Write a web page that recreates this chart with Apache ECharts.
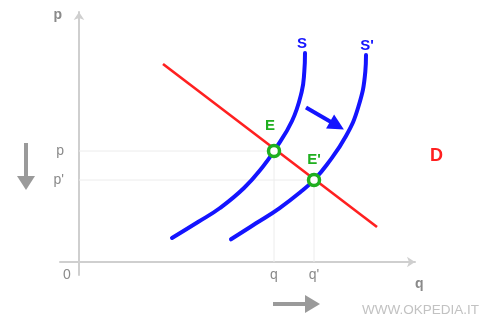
<!DOCTYPE html>
<html><head><meta charset="utf-8">
<script src="https://cdn.jsdelivr.net/npm/echarts@6/dist/echarts.min.js"></script>
<style>html,body{margin:0;padding:0;background:#fff}#c{width:480px;height:316px}</style>
</head><body><div id="c"></div>
<script>
// Supply curve S (before shift) and S' (after shift), demand D
const supplyS  = [[93,24],[119,40],[141,54],[165,74],[184,95.5],[195,111],[213,141],[222.7,170.3],[225.3,190.3],[226,209]];
const supplyS2 = [[152,22.7],[177,38.7],[200.3,53.7],[224,72],[235,82],[248,97.5],[267,126],[279.3,155],[286.3,190.3],[287,207]];
const demandD  = [[84,198],[298,35]];
// Equilibrium points E and E'
const equilibria = [[195,111],[235,82]];
const eqNames = ['E', "E'"];
// Shift arrow S -> S'
const shiftArrow = [[227,154.5],[258,136.5]];
// Tick labels
const xTickValues = [0, 195, 235];
const xTickLabels = ['0', 'q', "q'"];
const yTickValues = [111, 82];
const yTickLabels = ['p', "p'"];

const FONT = "'Liberation Sans', Arial, sans-serif";
const BLUE = '#1414ff', RED = '#ff2020', GREEN = '#1faf1f', GRAY = '#8a8a8a', AXIS = '#cfcfcf';

const guides = equilibria.map(p => ({
  type: 'line', silent: true, symbol: 'none', z: 1,
  data: [[0, p[1]], [p[0], p[1]], [p[0], 0]],
  lineStyle: { color: '#ececec', width: 1 }
}));

function curve(name, pts, labelOffset) {
  return { type: 'line', name, data: pts, smooth: 0.45, symbol: 'none', showSymbol: false, z: 3,
    lineStyle: { color: BLUE, width: 4, cap: 'round' },
    endLabel: { show: true, formatter: name, align: 'center', verticalAlign: 'bottom', distance: 0,
      offset: labelOffset, color: BLUE, fontWeight: 'bold', fontSize: 15, fontFamily: FONT } };
}

const chart = echarts.init(document.getElementById('c'), null, { renderer: 'canvas' });
chart.setOption({
  animation: false,
  backgroundColor: '#fff',
  grid: { left: 60, right: 65, top: 12, bottom: 41 },
  xAxis: {
    type: 'value', min: -19, max: 336,
    name: 'q', nameLocation: 'end', nameGap: 0,
    nameTextStyle: { color: GRAY, fontWeight: 'bold', fontSize: 14, fontFamily: FONT, verticalAlign: 'top', align: 'left', padding: [15, 0, 0, 0] },
    axisLine: { onZero: true, lineStyle: { color: AXIS, width: 2 }, symbol: ['none', 'arrow'], symbolSize: [8, 8] },
    axisTick: { show: false }, splitLine: { show: false },
    axisLabel: {
      customValues: xTickValues, margin: -7, color: GRAY, fontSize: 14, fontFamily: FONT,
      formatter: v => { const i = xTickValues.indexOf(v); return i === 0 ? '{z|' + xTickLabels[0] + '}' : (i > 0 ? xTickLabels[i] : ''); },
      rich: { z: { padding: [0, 24, 0, 0], color: GRAY, fontSize: 14, fontFamily: FONT } }
    }
  },
  yAxis: {
    type: 'value', min: -13, max: 250,
    name: 'p', nameLocation: 'end', nameGap: -3,
    nameTextStyle: { color: GRAY, fontWeight: 'bold', fontSize: 14, fontFamily: FONT, align: 'right', verticalAlign: 'middle', padding: [0, 17, 0, 0] },
    axisLine: { onZero: true, lineStyle: { color: AXIS, width: 2 }, symbol: ['none', 'arrow'], symbolSize: [8, 8] },
    axisTick: { show: false }, splitLine: { show: false },
    axisLabel: {
      customValues: yTickValues, margin: -4, color: GRAY, fontSize: 14, fontFamily: FONT,
      formatter: v => { const i = yTickValues.indexOf(v); return i >= 0 ? yTickLabels[i] : ''; }
    }
  },
  series: [
    ...guides,
    { type: 'line', name: 'D', data: demandD, symbol: 'none', z: 2, lineStyle: { color: RED, width: 2.6 } },
    curve('S', supplyS, [-3, -2]),
    curve("S'", supplyS2, [1, -2]),
    { type: 'lines', coordinateSystem: 'cartesian2d', z: 4,
      symbol: ['none', 'triangle'], symbolSize: 16,
      lineStyle: { color: BLUE, width: 4, opacity: 1 },
      data: [{ coords: shiftArrow }] },
    { type: 'scatter', z: 5, symbol: 'circle', symbolSize: 11,
      itemStyle: { color: '#fff', borderColor: GREEN, borderWidth: 3.5, opacity: 1 },
      data: equilibria.map((p, i) => ({ value: p, label: { show: true, position: 'top',
        distance: i === 0 ? 10 : 5, offset: i === 0 ? [-4, 0] : [0, 0],
        formatter: eqNames[i], color: GREEN, fontWeight: 'bold', fontSize: 15, fontFamily: FONT } })) }
  ],
  graphic: [
    { type: 'rect', shape: { x: 24, y: 143, width: 4, height: 34 }, style: { fill: '#9a9a9a' } },
    { type: 'polygon', shape: { points: [[17, 176], [35, 176], [26, 190]] }, style: { fill: '#9a9a9a' } },
    { type: 'rect', shape: { x: 273, y: 302, width: 33, height: 4 }, style: { fill: '#9a9a9a' } },
    { type: 'polygon', shape: { points: [[305, 295], [305, 313], [320, 304]] }, style: { fill: '#9a9a9a' } },
    { type: 'text', left: 430, top: 147, style: { text: 'D', fill: RED, font: 'bold 18px ' + FONT } },
    { type: 'text', right: 1, top: 303, style: { text: 'WWW.OKPEDIA.IT', fill: '#c2c2c2', font: '13.5px ' + FONT } }
  ]
});
</script></body></html>
